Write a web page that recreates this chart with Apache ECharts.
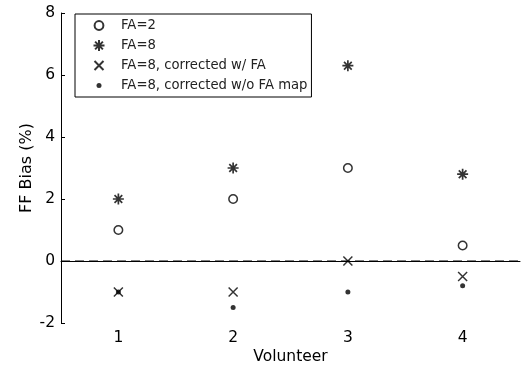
<!DOCTYPE html>
<html>
<head>
<meta charset="utf-8">
<script src="https://cdn.jsdelivr.net/npm/echarts@6/dist/echarts.min.js"></script>
<style>html,body{margin:0;padding:0;background:#fff}#c{width:527px;height:366px}</style>
</head>
<body>
<div id="c"></div>
<script>
var volunteers = ['1', '2', '3', '4'];
var fa2 = [1.0, 2.0, 3.0, 0.5];
var fa8 = [2.0, 3.0, 6.3, 2.8];
var fa8CorrFA = [-1.0, -1.0, 0.0, -0.5];
var fa8CorrNoMap = [-1.0, -1.5, -1.0, -0.8];
var seriesNames = ['FA=2', 'FA=8', 'FA=8, corrected w/ FA', 'FA=8, corrected w/o FA map'];
var yTicks = [-2, 0, 2, 4, 6, 8];
var xRange = [0.5, 4.5];   // full extent of the volunteer axis
var zeroLevel = [0, 0];    // reference level of the dashed line

var FONT = 'DejaVu Sans, sans-serif';
var starPath = 'path://M0 5L10 5M5 0L5 10M1.5 1.5L8.5 8.5M1.5 8.5L8.5 1.5';
var crossPath = 'path://M0 0L10 10M0 10L10 0';
// legend icons padded to a 12x12 box so they keep the plot marker sizes
var legCircle = 'path://M0 0M12 12M1.6 6A4.4 4.4 0 1 0 10.4 6A4.4 4.4 0 1 0 1.6 6Z';
var legStar = 'path://M0 0M12 12M0.5 6L11.5 6M6 0.5L6 11.5M2.1 2.1L9.9 9.9M2.1 9.9L9.9 2.1';
var legCross = 'path://M0 0M12 12M1.5 1.5L10.5 10.5M1.5 10.5L10.5 1.5';
var legDot = 'path://M0 0M12 12M3.5 6A2.5 2.5 0 1 0 8.5 6A2.5 2.5 0 1 0 3.5 6Z';

var chart = echarts.init(document.getElementById('c'), null, {renderer: 'canvas'});
chart.setOption({
  animation: false,
  backgroundColor: '#fff',
  grid: {left: 61, right: 7, top: 13, bottom: 43, outerBoundsMode: 'none', containLabel: false},
  legend: {
    orient: 'vertical',
    left: 75, top: 14,
    padding: [4, 4, 4, 17],
    itemWidth: 12, itemHeight: 12, itemGap: 5,
    borderColor: '#000', borderWidth: 1,
    backgroundColor: '#fff',
    textStyle: {fontFamily: FONT, fontSize: 13.2, color: '#222', lineHeight: 15, padding: [0, 0, 0, 11]},
    data: [
      {name: seriesNames[0], icon: legCircle},
      {name: seriesNames[1], icon: legStar},
      {name: seriesNames[2], icon: legCross},
      {name: seriesNames[3], icon: legDot}
    ]
  },
  xAxis: [{
    type: 'category',
    data: volunteers,
    boundaryGap: true,
    name: 'Volunteer',
    nameLocation: 'middle',
    nameGap: 26,
    nameMoveOverlap: false,
    nameTextStyle: {fontFamily: FONT, fontSize: 15.5, color: '#000'},
    axisLine: {lineStyle: {color: '#000', width: 1}},
    axisTick: {inside: true, length: 4, alignWithLabel: true, lineStyle: {color: '#000'}},
    axisLabel: {fontFamily: FONT, fontSize: 15.5, color: '#000', margin: 7},
    splitLine: {show: false}
  }, {
    type: 'value',
    min: xRange[0], max: xRange[1],
    show: false,
    splitLine: {show: false}
  }],
  yAxis: {
    type: 'value',
    min: yTicks[0], max: yTicks[yTicks.length - 1], interval: 2,
    name: 'FF Bias (%)',
    nameLocation: 'middle',
    nameGap: 26,
    nameMoveOverlap: false,
    nameTextStyle: {fontFamily: FONT, fontSize: 16, color: '#000'},
    axisLine: {show: true, lineStyle: {color: '#000', width: 1}},
    axisTick: {show: true, inside: true, length: 4, lineStyle: {color: '#000'}},
    axisLabel: {fontFamily: FONT, fontSize: 15.5, color: '#000', margin: 6},
    splitLine: {show: false}
  },
  series: [
    {
      name: 'zero', type: 'line', xAxisIndex: 1,
      data: [[xRange[0], zeroLevel[0]], [xRange[1], zeroLevel[1]]],
      symbol: 'none', silent: true,
      lineStyle: {color: '#000', width: 1, type: [9, 5]},
      emphasis: {disabled: true}
    },
    {
      name: seriesNames[0], type: 'scatter', data: fa2,
      symbol: 'circle', symbolSize: 8.5,
      itemStyle: {color: '#fff', borderColor: '#000', borderWidth: 1.5}
    },
    {
      name: seriesNames[1], type: 'scatter', data: fa8,
      symbol: starPath, symbolSize: 11,
      itemStyle: {color: 'transparent', borderColor: '#000', borderWidth: 1.7}
    },
    {
      name: seriesNames[2], type: 'scatter', data: fa8CorrFA,
      symbol: crossPath, symbolSize: 9,
      itemStyle: {color: 'transparent', borderColor: '#000', borderWidth: 1.5}
    },
    {
      name: seriesNames[3], type: 'scatter', data: fa8CorrNoMap,
      symbol: 'circle', symbolSize: 5,
      itemStyle: {color: '#000'}
    }
  ]
});
</script>
</body>
</html>
